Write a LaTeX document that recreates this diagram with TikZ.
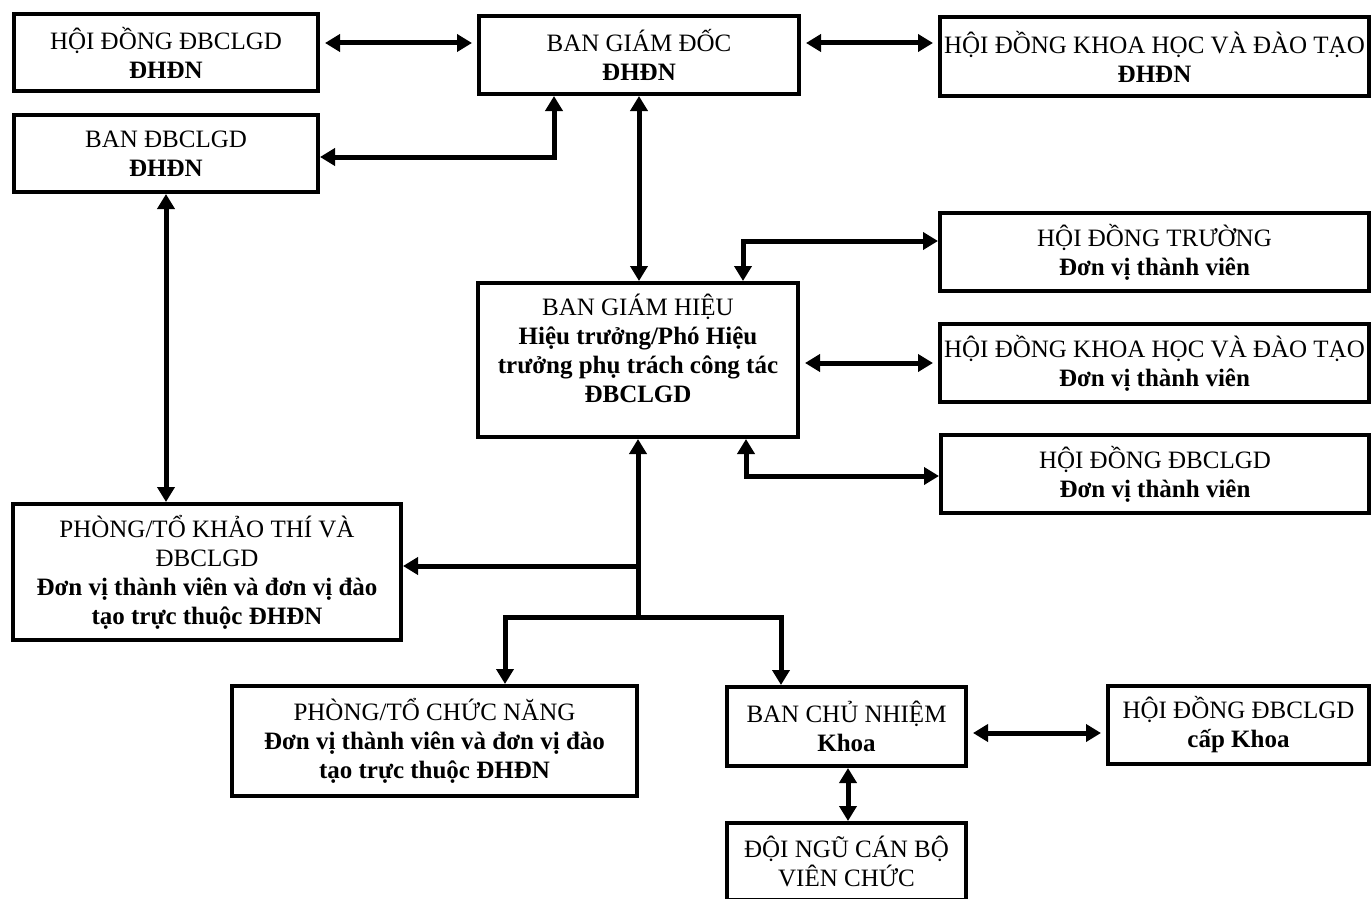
\documentclass[tikz,border=0pt]{standalone}
\usepackage{fontspec}
\setmainfont{Liberation Serif}
\usetikzlibrary{arrows.meta}
\tikzset{
  box/.style={draw=black, line width=4pt, fill=white, align=center, inner sep=0pt,
    font=\fontsize{25}{29}\selectfont},
  conn/.style={line width=5pt, draw=black, line join=miter},
  dbl/.style={conn, {Triangle[length=15pt,width=17pt]}-{Triangle[length=15pt,width=17pt]}},
  sgl/.style={conn, -{Triangle[length=15pt,width=17pt]}},
  gap/.style={shorten <=5pt, shorten >=5pt}
}
\newcommand\placebox[6]{\node[box, minimum width={(#4-#2-4)*1pt}, minimum height={(#5-#3-4)*1pt}] (#1) at ({(#2+#4)/2},{(#3+#5)/2}) {#6};}
\begin{document}
\begin{tikzpicture}[x=1pt, y=-1pt]
\clip (0,0) rectangle (1371,899);
\fill[white] (0,0) rectangle (1371,899);

\placebox{hda}{12}{12}{320}{93}{HỘI ĐỒNG ĐBCLGD\\\textbf{ĐHĐN}}
\placebox{bdb}{12}{113}{320}{194}{BAN ĐBCLGD\\\textbf{ĐHĐN}}
\placebox{bgd}{477}{14}{801}{96}{BAN GIÁM ĐỐC\\\textbf{ĐHĐN}}
\placebox{hkt}{938}{15}{1371}{98}{HỘI ĐỒNG KHOA HỌC VÀ ĐÀO TẠO\\\textbf{ĐHĐN}}
\placebox{hdt}{938}{211}{1371}{293}{HỘI ĐỒNG TRƯỜNG\\\textbf{Đơn vị thành viên}}
\placebox{hkd}{938}{322}{1371}{404}{HỘI ĐỒNG KHOA HỌC VÀ ĐÀO TẠO\\\textbf{Đơn vị thành viên}}
\placebox{hdd}{939}{433}{1371}{515}{HỘI ĐỒNG ĐBCLGD\\\textbf{Đơn vị thành viên}}
\placebox{bgh}{476}{281}{800}{439}{BAN GIÁM HIỆU\\\textbf{Hiệu trưởng/Phó Hiệu}\\\textbf{trưởng phụ trách công tác}\\\textbf{ĐBCLGD}\\[-5pt]\mbox{}}
\placebox{pkt}{11}{502}{403}{642}{PHÒNG/TỔ KHẢO THÍ VÀ\\ĐBCLGD\\\textbf{Đơn vị thành viên và đơn vị đào}\\\textbf{tạo trực thuộc ĐHĐN}}
\placebox{pcn}{230}{684}{639}{798}{PHÒNG/TỔ CHỨC NĂNG\\\textbf{Đơn vị thành viên và đơn vị đào}\\\textbf{tạo trực thuộc ĐHĐN}}
\placebox{bcn}{725}{685}{968}{768}{BAN CHỦ NHIỆM\\\textbf{Khoa}}
\placebox{hdk}{1106}{684}{1371}{766}{HỘI ĐỒNG ĐBCLGD\\\textbf{cấp Khoa}}
\placebox{dng}{725}{821}{968}{902}{ĐỘI NGŨ CÁN BỘ\\VIÊN CHỨC}

\coordinate (ytop) at (0,43);
\coordinate (cbdb) at (554,157);
\coordinate (chdt) at (743,241);
\coordinate (chkd) at (0,363);
\coordinate (chdd) at (746,476);
\coordinate (jn) at (638,617);
\coordinate (br) at (638,566);
\coordinate (lb) at (505,617);
\coordinate (rb) at (781,617);
\coordinate (chdk) at (0,733);
\coordinate (cdng) at (848,0);

\draw[dbl, gap] (hda.east |- ytop) -- (bgd.west |- ytop);
\draw[dbl, gap] (bgd.east |- ytop) -- (hkt.west |- ytop);
\draw[dbl] (bdb.east |- cbdb) -| (bgd.south -| cbdb);
\draw[dbl] (bgd.south) -- (bgd.south |- bgh.north);
\draw[dbl] (bgh.north -| chdt) |- (hdt.west |- chdt);
\draw[dbl, gap] (bgh.east |- chkd) -- (hkd.west |- chkd);
\draw[dbl] (bgh.south -| chdd) |- (hdd.west |- chdd);
\draw[dbl] (bdb.south) -- (bdb.south |- pkt.north);
\draw[sgl] (jn) -- (bgh.south -| jn);
\draw[sgl] (br) -- (pkt.east |- br);
\draw[sgl] (jn) -| (pcn.north -| lb);
\draw[sgl] (jn) -| (bcn.north -| rb);
\draw[dbl, gap] (bcn.east |- chdk) -- (hdk.west |- chdk);
\draw[dbl] (bcn.south -| cdng) -- (dng.north -| cdng);
\end{tikzpicture}
\end{document}
